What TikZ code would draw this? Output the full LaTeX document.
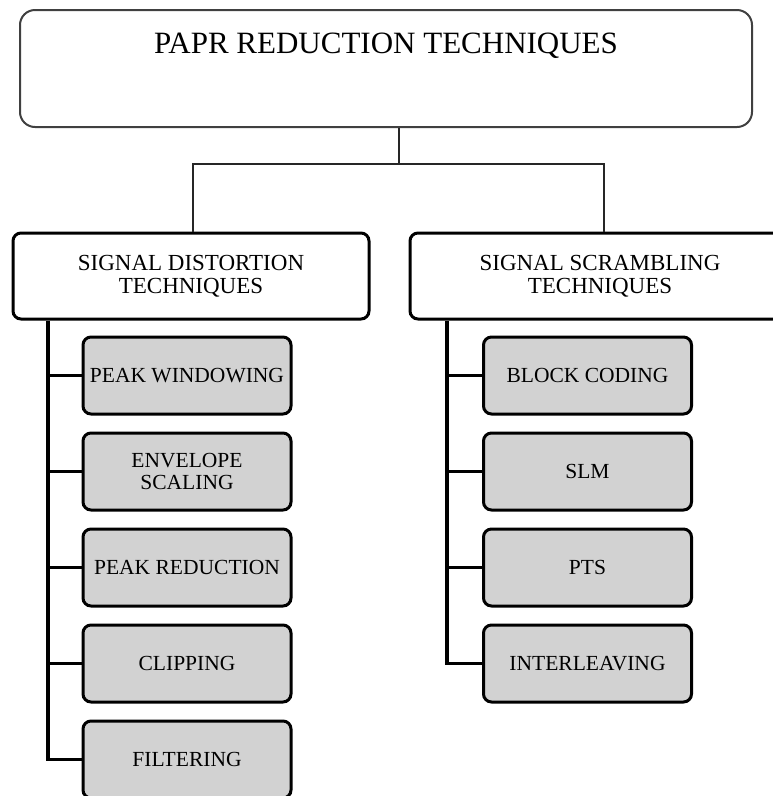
\documentclass[tikz,border=0pt]{standalone}
\usepackage{fontspec}
\setmainfont{Liberation Serif}
\begin{document}
\begin{tikzpicture}[x=1pt,y=-1pt,
  topbox/.style={draw=black!75, line width=2pt, rounded corners=15pt,
    minimum width=732pt, minimum height=117pt, inner sep=0pt},
  midbox/.style={draw=black, line width=3pt, rounded corners=8pt,
    minimum height=86pt, inner sep=0pt, align=center,
    font=\fontsize{23}{23}\selectfont},
  leafbox/.style={draw=black, fill=gray!35, line width=3pt, rounded corners=8pt,
    minimum width=208pt, minimum height=77pt, inner sep=0pt, align=center,
    font=\fontsize{21.5}{22}\selectfont},
  thinlink/.style={draw=black!85, line width=1.4pt},
  spine/.style={draw=black, line width=3.2pt}
]
\useasboundingbox (0,0) rectangle (772,796);

% root
\node[topbox] (root) at (386,68.5) {};
\node[anchor=base, font=\fontsize{31}{31}\selectfont] (title) at (386,53) {PAPR REDUCTION TECHNIQUES};

% second level
\node[midbox, minimum width=356pt] (sd) at (191,276) {SIGNAL DISTORTION\\TECHNIQUES};
\node[midbox, minimum width=380pt] (ss) at (600,276) {SIGNAL SCRAMBLING\\TECHNIQUES};

% branch from the root
\coordinate (j)  at (399,164);
\coordinate (ja) at (193,164);
\coordinate (jb) at (604,164);
\draw[thinlink] (j |- root.south) -- (j);
\draw[thinlink] (ja |- sd.north) -- (ja) -- (jb) -- (jb |- ss.north);

% distortion leaves
\node[leafbox] (pw) at (187,375.5) {PEAK WINDOWING};
\node[leafbox] (es) at (187,471.5) {ENVELOPE\\SCALING};
\node[leafbox] (pr) at (187,567.5) {PEAK REDUCTION};
\node[leafbox] (cl) at (187,663.5) {CLIPPING};
\node[leafbox] (fi) at (187,759.5) {FILTERING};

% scrambling leaves
\node[leafbox] (bc) at (587.5,375.5) {BLOCK CODING};
\node[leafbox] (slm) at (587.5,471.5) {SLM};
\node[leafbox] (pts) at (587.5,567.5) {PTS};
\node[leafbox] (il) at (587.5,663.5) {INTERLEAVING};

% spines
\coordinate (sa) at (48,0);
\coordinate (sb) at (447,0);
\draw[spine] (sa |- sd.south) -- (sa |- fi.west) -- (fi.west);
\foreach \n in {pw,es,pr,cl} \draw[spine] (sa |- \n.west) -- (\n.west);
\draw[spine] (sb |- ss.south) -- (sb |- il.west) -- (il.west);
\foreach \n in {bc,slm,pts} \draw[spine] (sb |- \n.west) -- (\n.west);
\end{tikzpicture}
\end{document}
